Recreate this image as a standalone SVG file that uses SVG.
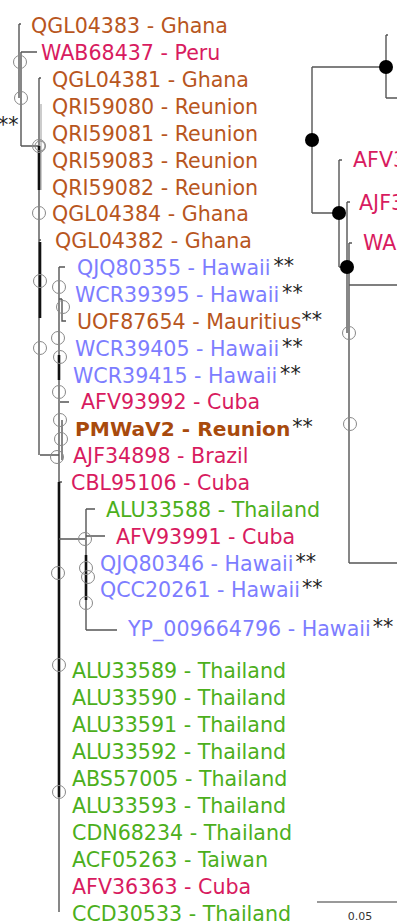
<svg xmlns="http://www.w3.org/2000/svg" width="397" height="924" viewBox="0 0 397 924">
<style>
text{font-family:"DejaVu Sans","Verdana",sans-serif;font-size:20.6px}
.o{fill:#b8561e}
.r{fill:#d81b60}
.b{fill:#7d7dff}
.g{fill:#4caf1c}
.pm{fill:#a84a0c;font-weight:bold;font-size:20.2px}
.st{fill:#222;font-weight:normal}
.ln{fill:none;stroke:#555;stroke-width:1.4}
.lt{fill:none;stroke:#999;stroke-width:1}
.tk{fill:none;stroke:#111;stroke-width:2.6}
.oc{fill:none;stroke:#888;stroke-width:1}
.fc{fill:#000}
.sc{font-size:11px;fill:#333}
</style>
<rect width="397" height="924" fill="#fff"/>
<g id="connectors">
<path class="ln" d="M19,24H21M19,24V98M21,52V146M21,52H37M21,146H39"/>
<path class="lt" d="M41,104V190"/>
<path class="ln" d="M39,78H41M39,78V455M39,240H41M40,455H59"/>
<path class="tk" d="M39,146V190M40,242V318"/>
<path class="ln" d="M59,267V912M59,267H65M59,299H62M62,299V321H66M60,402H69M62,420V460M59,482H62"/>
<path class="tk" d="M59,355V380M59,482V797"/>
<path class="ln" d="M59,539H85M86,509V630M86,509H95M86,536H105M86,630H117"/>
<path class="tk" d="M86,555V600"/>
<path class="ln" d="M386,35V98M386,35H388M386,98H397M312,67H386M312,67V213M312,213H339M339,160V267M339,160H342M347,202V285M347,202H350M349,243V563M349,243H352M339,267H347M349,285H397M347,285V333M349,563H397"/>
<path d="M317,902H397" stroke="#777" stroke-width="1.6" fill="none"/>
</g>
<g id="support">
<circle class="oc" cx="20" cy="62" r="6.5"/>
<circle class="oc" cx="21" cy="98" r="6.5"/>
<circle class="oc" cx="39" cy="146" r="6.5"/>
<circle class="oc" cx="40" cy="146" r="5"/>
<circle class="oc" cx="39" cy="213" r="6.5"/>
<circle class="oc" cx="40" cy="281" r="6.5"/>
<circle class="oc" cx="40" cy="348" r="6.5"/>
<circle class="oc" cx="59" cy="287" r="6.5"/>
<circle class="oc" cx="63" cy="307" r="6.5"/>
<circle class="oc" cx="58" cy="338" r="6.5"/>
<circle class="oc" cx="60" cy="357" r="6.5"/>
<circle class="oc" cx="59" cy="392" r="6.5"/>
<circle class="oc" cx="60" cy="420" r="6.5"/>
<circle class="oc" cx="61" cy="439" r="6.5"/>
<circle class="oc" cx="57" cy="457" r="6.5"/>
<circle class="oc" cx="85" cy="539" r="6.5"/>
<circle class="oc" cx="86" cy="568" r="6.5"/>
<circle class="oc" cx="88" cy="577" r="6.5"/>
<circle class="oc" cx="86" cy="603" r="6.5"/>
<circle class="oc" cx="58" cy="573" r="6.5"/>
<circle class="oc" cx="59" cy="665" r="6.5"/>
<circle class="oc" cx="59" cy="792" r="6.5"/>
<circle class="oc" cx="349" cy="333" r="6.5"/>
<circle class="oc" cx="350" cy="424" r="6.5"/>
<circle class="fc" cx="386" cy="67" r="7"/>
<circle class="fc" cx="312" cy="140" r="7"/>
<circle class="fc" cx="339" cy="213" r="7"/>
<circle class="fc" cx="347" cy="267" r="7"/>
</g>
<g id="n1"><text class="o" x="31" y="33">QGL04383 - Ghana</text></g>
<g id="n2"><text class="r" x="41" y="60">WAB68437 - Peru</text></g>
<g id="n3"><text class="o" x="52" y="87">QGL04381 - Ghana</text></g>
<g id="n4"><text class="o" x="52" y="114">QRI59080 - Reunion</text></g>
<g id="n5"><text class="o" x="52" y="141">QRI59081 - Reunion</text></g>
<g id="n6"><text class="o" x="52" y="168">QRI59083 - Reunion</text></g>
<g id="n7"><text class="o" x="52" y="194.5">QRI59082 - Reunion</text></g>
<g id="n8"><text class="o" x="52" y="221">QGL04384 - Ghana</text></g>
<g id="n9"><text class="o" x="55" y="248">QGL04382 - Ghana</text></g>
<g id="n10"><text class="b" x="77" y="275">QJQ80355 - Hawaii<tspan class="st" dx="3" dy="-2">**</tspan></text></g>
<g id="n11"><text class="b" x="75" y="302">WCR39395 - Hawaii<tspan class="st" dx="3" dy="-2">**</tspan></text></g>
<g id="n12"><text class="o" x="77" y="329">UOF87654 - Mauritius<tspan class="st" dx="0" dy="-2">**</tspan></text></g>
<g id="n13"><text class="b" x="75" y="355.5">WCR39405 - Hawaii<tspan class="st" dx="3" dy="-2">**</tspan></text></g>
<g id="n14"><text class="b" x="73" y="382.5">WCR39415 - Hawaii<tspan class="st" dx="3" dy="-2">**</tspan></text></g>
<g id="n15"><text class="r" x="81" y="409">AFV93992 - Cuba</text></g>
<g id="n16"><text class="pm" x="75" y="436">PMWaV2 - Reunion<tspan class="st" dx="2" dy="-2" font-size="20.6">**</tspan></text></g>
<g id="n17"><text class="r" x="73" y="463">AJF34898 - Brazil</text></g>
<g id="n18"><text class="r" x="71" y="490">CBL95106 - Cuba</text></g>
<g id="n19"><text class="g" x="106" y="517">ALU33588 - Thailand</text></g>
<g id="n20"><text class="r" x="116" y="543.5">AFV93991 - Cuba</text></g>
<g id="n21"><text class="b" x="100" y="570.5">QJQ80346 - Hawaii<tspan class="st" dx="2" dy="-2">**</tspan></text></g>
<g id="n22"><text class="b" x="100" y="597">QCC20261 - Hawaii<tspan class="st" dx="2" dy="-2">**</tspan></text></g>
<g id="n23"><text class="b" x="128" y="636">YP_009664796 - Hawaii<tspan class="st" dx="2" dy="-2">**</tspan></text></g>
<g id="n24"><text class="g" x="72" y="678">ALU33589 - Thailand</text></g>
<g id="n25"><text class="g" x="72" y="705">ALU33590 - Thailand</text></g>
<g id="n26"><text class="g" x="72" y="732">ALU33591 - Thailand</text></g>
<g id="n27"><text class="g" x="72" y="759">ALU33592 - Thailand</text></g>
<g id="n28"><text class="g" x="72" y="786">ABS57005 - Thailand</text></g>
<g id="n29"><text class="g" x="72" y="813">ALU33593 - Thailand</text></g>
<g id="n30"><text class="g" x="72" y="840">CDN68234 - Thailand</text></g>
<g id="n31"><text class="g" x="72" y="866.5">ACF05263 - Taiwan</text></g>
<g id="n32"><text class="r" x="72" y="893.5">AFV36363 - Cuba</text></g>
<g id="n33"><text class="g" x="72" y="920.5">CCD30533 - Thailand</text></g>
<g id="n34"><text class="st" x="-2" y="132">**</text></g>
<g id="n35"><text class="r" x="353" y="167">AFV3</text></g>
<g id="n36"><text class="r" x="359" y="210">AJF3</text></g>
<g id="n37"><text class="r" x="363" y="250">WAB</text></g>
<g id="scale"><text class="sc" x="360" y="920" text-anchor="middle">0.05</text></g>
</svg>
